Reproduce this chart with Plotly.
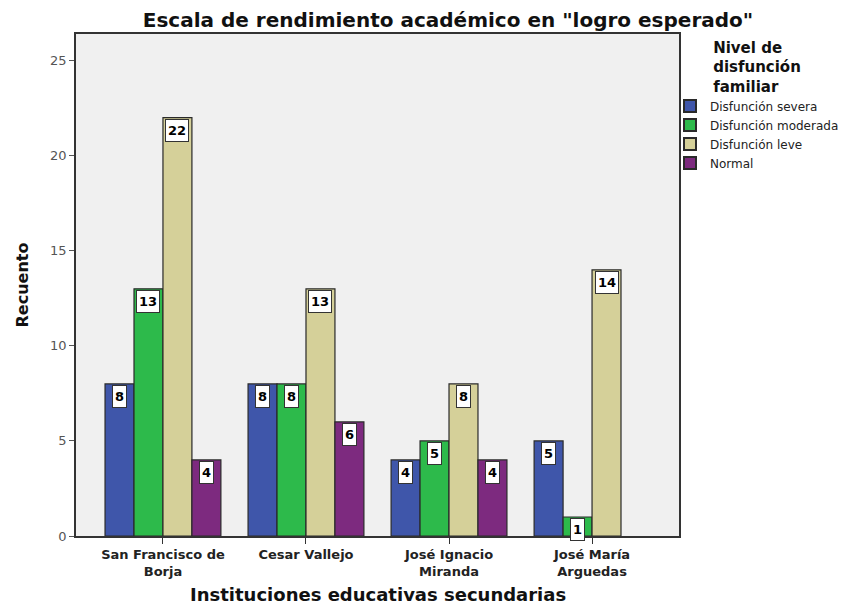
import plotly.graph_objects as go

categories = ["San Francisco de<br>Borja", "Cesar Vallejo", "José Ignacio<br>Miranda", "José María<br>Arguedas"]
series_names = ["Disfunción severa", "Disfunción moderada", "Disfunción leve", "Normal"]
severa = [8, 8, 4, 5]
moderada = [13, 8, 5, 1]
leve = [22, 13, 8, 14]
normal = [4, 6, 4, None]
colors = ["#3F56AA", "#2DBA4B", "#D5D099", "#7D2A7F"]

series = [severa, moderada, leve, normal]
xs = list(range(len(categories)))
group_w = 0.81
bar_w = group_w / 4
FB = "DejaVu Sans"

# page has an 8px body margin: figure is sized/offset to compensate
W, H = 846, 597
ML, MR, MT = 68, 175, 26
MB = H - 528
plot_w = W - ML - MR
plot_h = H - MT - MB

fig = go.Figure()
annotations = []
for k, (name, vals, col) in enumerate(zip(series_names, series, colors)):
    fig.add_trace(go.Bar(
        name=name, x=xs, y=vals,
        marker=dict(color=col, line=dict(color="#2a2a2a", width=1.2)),
        offsetgroup=str(k),
    ))
    off = (k - 1.5) * bar_w
    for i, v in enumerate(vals):
        if v is None:
            continue
        annotations.append(dict(
            x=i + off, y=v, xref="x", yref="y", text="<b>%d</b>" % v,
            showarrow=False, yanchor="top", yshift=-1, height=17,
            font=dict(size=13, color="black", family=FB),
            bgcolor="white", bordercolor="#333", borderwidth=1, borderpad=2,
        ))

# x axis title
annotations.append(dict(
    x=0.5, y=-(586 - 528) / plot_h, xref="paper", yref="paper",
    text="<b>Instituciones educativas secundarias</b>", showarrow=False,
    xanchor="center", yanchor="middle",
    font=dict(size=18, color="#111", family=FB),
))

fig.update_layout(
    width=W, height=H,
    barmode="group", bargap=1 - group_w, bargroupgap=0,
    paper_bgcolor="white", plot_bgcolor="#F0F0F0",
    font=dict(family=FB, color="#222"),
    margin=dict(l=ML, r=MR, t=MT, b=MB, autoexpand=False),
    title=dict(text="<b>Escala de rendimiento académico en \"logro esperado\"</b>",
               x=440 / W, xanchor="center", y=1 - 12 / H, yanchor="middle",
               font=dict(size=20, color="#111", family=FB)),
    xaxis=dict(tickmode="array", tickvals=xs, ticktext=["<b>%s</b>" % c for c in categories],
               range=[-0.608, 3.608], showgrid=False, zeroline=False, automargin=False,
               showline=True, linecolor="#333", linewidth=1.5, mirror=True,
               ticks="outside", ticklen=6, tickcolor="#333",
               tickfont=dict(size=13, color="#222", family=FB)),
    yaxis=dict(range=[0, 26.4], tickvals=[0, 5, 10, 15, 20, 25], showgrid=False,
               zeroline=False, showline=True, linecolor="#333", linewidth=1.5, mirror=True,
               automargin=False,
               ticks="outside", ticklen=5, tickcolor="#555",
               tickfont=dict(size=13, color="#555", family=FB),
               title=dict(text="<b>Recuento</b>", font=dict(size=16, color="#111", family=FB), standoff=18)),
    legend=dict(x=(662 - ML) / plot_w, xanchor="left", y=1 + 1 / plot_h, yanchor="top",
                title=dict(text="<b>Nivel de<br>disfunción<br>familiar</b>", side="top center",
                           font=dict(size=15, color="#111", family=FB)),
                font=dict(size=12, color="#222", family=FB), itemsizing="constant",
                tracegroupgap=0, bgcolor="rgba(0,0,0,0)"),
    annotations=annotations,
)

fig.write_html("out.html")
